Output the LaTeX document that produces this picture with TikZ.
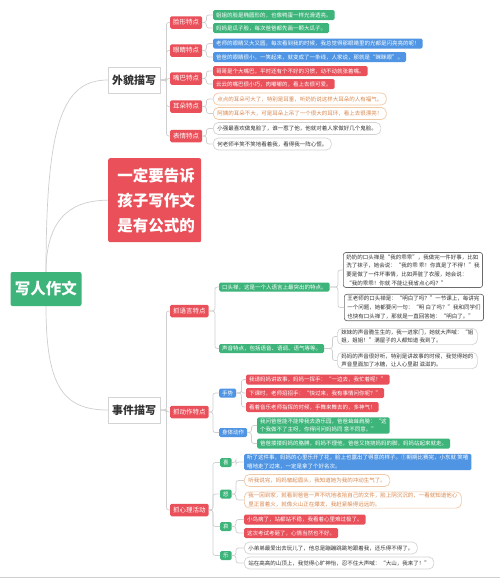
\documentclass[tikz,border=0pt]{standalone}
\usepackage{fontspec}
\setmainfont{Noto Sans CJK SC}
\definecolor{myred}{HTML}{E9505A}
\definecolor{mygreen}{HTML}{3DB47A}
\definecolor{myblue}{HTML}{4F95E3}
\definecolor{otext}{HTML}{D9874E}
\definecolor{oborder}{HTML}{F0C9A4}
\definecolor{gborder}{HTML}{D4D4D4}
\definecolor{dborder}{HTML}{6A6A6A}
\definecolor{linec}{HTML}{CFCFCF}
\definecolor{darktext}{HTML}{333333}
\tikzset{
  conn/.style={draw=linec, line width=0.7pt, rounded corners=2.5pt},
  rootbox/.style={fill=mygreen, text=white, font=\fontsize{15.5}{18}\bfseries\selectfont, rounded corners=2pt, minimum width=71pt, minimum height=34pt, inner sep=0pt},
  mainb/.style={draw=gborder, fill=white, text=darktext, font=\fontsize{11}{13}\bfseries\selectfont, minimum width=52pt, minimum height=26pt, inner sep=0pt, anchor=west},
  bigred/.style={fill=myred, text=white, font=\fontsize{15.5}{25}\bfseries\selectfont, align=left, rounded corners=2pt, minimum width=93pt, minimum height=84pt, inner sep=0pt, anchor=north west},
  lab/.style={fill=myred, text=white, font=\fontsize{6.5}{7}\selectfont, rounded corners=1.5pt, inner xsep=3pt, inner ysep=0pt, minimum height=12.5pt, anchor=west},
  smalllab/.style={text=white, font=\fontsize{5.5}{6.5}\selectfont, rounded corners=1.5pt, inner xsep=3pt, inner ysep=0pt, minimum height=9pt, anchor=west},
  glab/.style={smalllab, fill=mygreen},
  blab/.style={smalllab, fill=myblue},
  leafbase/.style={font=\fontsize{5.5}{8.6}\selectfont, inner xsep=3pt, inner ysep=1.2pt, minimum height=10pt, anchor=west, align=left},
  gleaf/.style={leafbase, fill=mygreen, text=white, rounded corners=1.5pt},
  bleaf/.style={leafbase, fill=myblue, text=white, rounded corners=1.5pt},
  rleaf/.style={leafbase, fill=myred, text=white, rounded corners=1.5pt},
  oleaf/.style={leafbase, draw=oborder, line width=0.7pt, fill=white, text=otext, rounded corners=5pt, minimum height=12pt, inner xsep=4pt},
  gyleaf/.style={leafbase, draw=gborder, line width=0.7pt, fill=white, text=darktext, rounded corners=5pt, minimum height=12pt, inner xsep=4pt},
  dleaf/.style={leafbase, draw=dborder, line width=0.7pt, fill=white, text=darktext, rounded corners=2.5pt, inner xsep=3pt, inner ysep=2pt},
}
\begin{document}
\begin{tikzpicture}[x=1pt,y=-1pt]
\useasboundingbox (0,0) rectangle (500,579);
\fill[white] (0,0) rectangle (500,579);
\draw[linec, line width=0.8pt] (0,577.5) -- (500,577.5);

% main nodes
\node[rootbox] (root) at (46,289) {写人作文};
\node[mainb] (wm) at (108,80) {外貌描写};
\node[bigred] (big) at (108,158) {\hspace{3pt}一定要告诉\\\hspace{3pt}孩子写作文\\\hspace{3pt}是有公式的};
\node[mainb] (ev) at (108,410) {事件描写};

\draw[conn] (root.north) .. controls +(0,-150) and +(-45,0) .. (wm.west);
\draw[conn] (root.north) .. controls +(0,-60) and +(-30,0) .. (big.west);
\draw[conn] (root.south) .. controls +(0,80) and +(-45,0) .. (ev.west);

% appearance labels
\node[lab] (l1) at (170,22.5) {脸形特点};
\node[lab] (l2) at (170,50.5) {眼睛特点};
\node[lab] (l3) at (170,78.5) {嘴巴特点};
\node[lab] (l4) at (170,106.5) {耳朵特点};
\node[lab] (l5) at (170,136) {表情特点};
\foreach \n in {l1,l2,l3,l4,l5} \draw[conn] (wm.east) -- ++(6,0) |- (\n.west);

\node[gleaf] (a1) at (213,15) {姐姐的脸是椭圆形的，也像鸭蛋一样光滑透亮。};
\node[gleaf] (a2) at (213,28) {妈妈是瓜子脸，每次爸爸都先画一颗大瓜子。};
\node[bleaf] (b1) at (213,43.5) {老师的眼睛又大又圆，每次看到我的时候，我总觉得那眼睛里的光都是闪亮亮的呢！};
\node[bleaf] (b2) at (213,57) {爸爸的眼睛很小，一笑起来，就变成了一条线，人家说，那就是“眯眯眼”。};
\node[rleaf] (c1) at (213,71) {哥哥是个大嘴巴，平时还有个不好的习惯，动不动就张着嘴。};
\node[rleaf] (c2) at (213,84) {云云的嘴巴很小巧，肉嘟嘟的，看上去很可爱。};
\node[oleaf] (d1) at (213,99) {点点的耳朵可大了，特别是耳垂，听奶奶说这样大耳朵的人有福气。};
\node[oleaf] (d2) at (213,113.5) {阿姨的耳朵不大，可是耳朵上吊了一个很大的耳环，看上去很漂亮！};
\node[gyleaf] (e1) at (213,128.5) {小强最喜欢做鬼脸了，谁一惹了他，他就对着人家做好几个鬼脸。};
\node[gyleaf] (e2) at (213,144) {何老师半笑不笑地看着我，看得我一阵心慌。};
\foreach \p/\c in {l1/a1,l1/a2,l2/b1,l2/b2,l3/c1,l3/c2,l4/d1,l4/d2,l5/e1,l5/e2}
  \draw[conn] (\p.east) -- ++(4,0) |- (\c.west);

% event labels
\node[lab] (m1) at (170,311) {抓语言特点};
\node[lab] (m2) at (170,412) {抓动作特点};
\node[lab] (m3) at (170,510) {抓心理活动};
\foreach \n in {m1,m2,m3} \draw[conn] (ev.east) -- ++(6,0) |- (\n.west);

% language
\node[glab] (n1) at (219,287) {口头禅，这是一个人语言上最突出的特点。};
\node[glab] (n2) at (219,348.5) {声音特点，包括语音、语调、语气等等。};
\foreach \c in {n1,n2} \draw[conn] (m1.east) -- ++(6,0) |- (\c.west);

\node[dleaf] (p1) at (343,270) {奶奶的口头禅是“我的乖乖”，我做完一件好事，比如\\洗了袜子，她会说：“我的乖 乖！你真是了不得！”我\\要是做了一件坏事情，比如弄脏了衣服，她会说：\\“我的乖乖！你就 不能让我省点心吗？”};
\node[dleaf] (p2) at (344,307.5) {王老师的口头禅是：“明白了吗？”一节课上，每讲完\\一个问题，她都要问一句：“明 白了吗？”我和同学们\\也快有口头禅了，那就是一直回答她：“明白了。”};
\foreach \c in {p1,p2} \draw[conn] (n1.east) -- ++(8,0) |- (\c.west);

\node[gyleaf] (q1) at (337,336.5) {妹妹的声音脆生生的，我一进家门，她就大声喊：“姐\\姐，姐姐！”满屋子的人都知道 我到了。};
\node[gyleaf] (q2) at (337,360.5) {妈妈的声音很好听，特别是讲故事的时候，我觉得她的\\声音里面加了冰糖，让人心里甜 滋滋的。};
\foreach \c in {q1,q2} \draw[conn] (n2.east) -- ++(8,0) |- (\c.west);

% action
\node[blab] (s1) at (219,393) {手势};
\node[blab] (s2) at (219,432.5) {身体动作};
\foreach \c in {s1,s2} \draw[conn] (m2.east) -- ++(4,0) |- (\c.west);

\node[rleaf] (t1) at (246,379.5) {我请妈妈讲故事，妈妈一挥手：“一边去，我忙着呢！”};
\node[rleaf] (t2) at (246,393) {下课时，老师招招手：“快过来，我有事情问你呢？”};
\node[rleaf] (t3) at (246,407) {看着音乐老师指挥的时候，手舞来舞去的，多神气！};
\foreach \c in {t1,t2,t3} \draw[conn] (s1.east) -- ++(5,0) |- (\c.west);

\node[gleaf] (u1) at (257,425.5) {我问爸爸能不能带我去游乐园，爸爸耸耸肩膀：“这\\个我做不了主呀，你得问问妈妈同 意不同意。”};
\node[gleaf] (u2) at (257,443.5) {爸爸搂搂妈妈的胳膊，妈妈不理他，爸爸又挠挠妈妈的脚，妈妈站起来就走。};
\foreach \c in {u1,u2} \draw[conn] (s2.east) -- ++(4,0) |- (\c.west);

% psychology
\node[glab] (v1) at (220,462.5) {喜};
\node[glab] (v2) at (220,494) {怒};
\node[glab] (v3) at (220,526.5) {哀};
\node[glab] (v4) at (220,555.5) {乐};
\foreach \c in {v1,v2,v3,v4} \draw[conn] (m3.east) -- ++(4,0) |- (\c.west);

\node[bleaf] (w1) at (244,462) {听了这件事，妈妈的心里乐开了花，脸上也露出了得意的样子。①期期比赛完，小东就 笑嘻\\嘻地走了过来，一定是拿了个好名次。};
\node[oleaf] (w2) at (244,480.5) {听我说完，妈妈皱起眉头，我知道她为我的冲动生气了。};
\node[oleaf] (w3) at (244,500) {我一回到家，就看到爸爸一声不吭地收拾自己的文件，脸上阴沉沉的，一看就知道他心\\里正冒着火，就像火山正在爆发，我赶紧躲得远远的。};
\node[rleaf] (x1) at (244,519.5) {小鸟病了，站都站不稳，我看着心里难过极了。};
\node[rleaf] (x2) at (244,533) {这次考试考砸了，心情当然也不好。};
\node[gyleaf] (y1) at (244,548) {小弟弟最爱出去玩儿了，他总是蹦蹦跳跳地跟着我，还乐得不得了。};
\node[gyleaf] (y2) at (244,563) {站在高高的山顶上，我觉得心旷神怡，忍不住大声喊：“大山，我来了！”};
\draw[conn] (v1.east) -- ++(4,0) |- (w1.west);
\foreach \c in {w2,w3} \draw[conn] (v2.east) -- ++(4,0) |- (\c.west);
\foreach \c in {x1,x2} \draw[conn] (v3.east) -- ++(4,0) |- (\c.west);
\foreach \c in {y1,y2} \draw[conn] (v4.east) -- ++(4,0) |- (\c.west);
\end{tikzpicture}
\end{document}
